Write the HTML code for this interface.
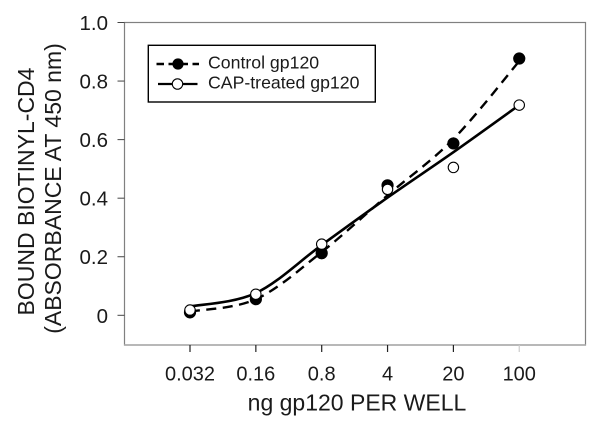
<!DOCTYPE html>
<html>
<head>
<meta charset="utf-8">
<style>
html,body{margin:0;padding:0;background:#fff;}
svg{display:block;}
text{font-family:"Liberation Sans",Arial,sans-serif;fill:#1a1a1a;}
</style>
</head>
<body>
<svg id="chart" width="600" height="428" viewBox="0 0 600 428" xmlns="http://www.w3.org/2000/svg"></svg>
<script>
const categories = ['0.032', '0.16', '0.8', '4', '20', '100'];
const yTickLabels = ['0', '0.2', '0.4', '0.6', '0.8', '1.0'];
const yTickValues = [0, 0.2, 0.4, 0.6, 0.8, 1.0];
const controlPoints = [0.01, 0.055, 0.212, 0.444, 0.587, 0.877];
const capPoints = [0.018, 0.072, 0.243, 0.43, 0.505, 0.718];
const controlFit = [0.013, 0.055, 0.216, 0.41, 0.602, 0.868];
const capFit = [0.03, 0.076, 0.24, 0.402, 0.557, 0.718];

const svg = document.getElementById('chart');
const NS = 'http://www.w3.org/2000/svg';
function make(tag, attrs, text) {
  const el = document.createElementNS(NS, tag);
  for (const k in attrs) el.setAttribute(k, attrs[k]);
  if (text !== undefined) el.textContent = text;
  svg.appendChild(el);
  return el;
}
function xAxis(i) { return 190 + i * 65.85; }
function yAxis(v) { return 315.3 - v * 292.8; }
function curvePath(values) {
  const p = values.map((v, i) => [xAxis(i), yAxis(v)]);
  let d = 'M' + p[0][0] + ' ' + p[0][1];
  for (let i = 0; i < p.length - 1; i++) {
    const a = p[Math.max(i - 1, 0)], b = p[i], c = p[i + 1], e = p[Math.min(i + 2, p.length - 1)];
    const c1x = b[0] + (c[0] - a[0]) / 6, c1y = b[1] + (c[1] - a[1]) / 6;
    const c2x = c[0] - (e[0] - b[0]) / 6, c2y = c[1] - (e[1] - b[1]) / 6;
    d += ' C' + c1x + ' ' + c1y + ' ' + c2x + ' ' + c2y + ' ' + c[0] + ' ' + c[1];
  }
  return d;
}

const frame = make('rect', {x: 124.5, y: 22.5, width: 461, height: 322.5, fill: 'none', stroke: '#808080', 'stroke-width': 1.2});


const floor = make('line', {x1: 124, x2: 586, y1: 345, y2: 345, stroke: '#a8a8a8', 'stroke-width': 1.6});



yTickValues.forEach((v, i) => {
  const tick = make('line', {x1: 117.5, x2: 124.5, y1: yAxis(v), y2: yAxis(v), stroke: '#444', 'stroke-width': 1});
  
  
  const label = make('text', {x: 108, y: yAxis(v) + 7.5, 'text-anchor': 'end', 'font-size': 20.5}, yTickLabels[i]);
  
  
});

categories.forEach((c, i) => {
  const tick = make('line', {x1: xAxis(i), x2: xAxis(i), y1: 345, y2: 352, stroke: i === 5 ? '#ccc' : '#222', 'stroke-width': 1.2});
  
  
  const label = make('text', {x: xAxis(i), y: 380.5, 'text-anchor': 'middle', 'font-size': 20}, c);
  
  
});

const xTitle = make('text', {x: 357, y: 410.5, 'text-anchor': 'middle', 'font-size': 23}, 'ng gp120 PER WELL');


const yTitle1 = make('text', {transform: 'translate(34 191.5) rotate(-90)', 'text-anchor': 'middle', 'font-size': 23}, 'BOUND BIOTINYL-CD4');


const yTitle2 = make('text', {transform: 'translate(61 188.5) rotate(-90)', 'text-anchor': 'middle', 'font-size': 23}, '(ABSORBANCE AT 450 nm)');



const controlLine = make('path', {d: curvePath(controlFit), fill: 'none', stroke: '#000', 'stroke-width': 2.4, 'stroke-dasharray': '10 6.5'});


const capLine = make('path', {d: curvePath(capFit), fill: 'none', stroke: '#000', 'stroke-width': 2.6});



controlPoints.forEach((v, i) => {
  const dot = make('circle', {cx: xAxis(i), cy: yAxis(v), r: 5.8, fill: '#000', stroke: '#000', 'stroke-width': 0.6});
  
  
});
capPoints.forEach((v, i) => {
  const dot = make('circle', {cx: xAxis(i), cy: yAxis(v), r: 5.2, fill: '#fff', stroke: '#000', 'stroke-width': 1.1});
  
  
});

const legendBox = make('rect', {x: 148.3, y: 45.3, width: 227, height: 56.7, fill: '#fff', stroke: '#000', 'stroke-width': 1.4});


const legendDash = make('line', {x1: 156.5, x2: 199, y1: 64, y2: 64, stroke: '#000', 'stroke-width': 2.6, 'stroke-dasharray': '7.5 4.5'});


const legendDot = make('circle', {cx: 178, cy: 64, r: 5.6, fill: '#000'});


const legendControl = make('text', {x: 208, y: 68.5, 'font-size': 17.7}, 'Control gp120');


const legendSolid = make('line', {x1: 158, x2: 197.5, y1: 84, y2: 84, stroke: '#000', 'stroke-width': 2.2});


const legendOpen = make('circle', {cx: 177.5, cy: 84, r: 5.2, fill: '#fff', stroke: '#000', 'stroke-width': 1.1});


const legendCap = make('text', {x: 208, y: 88.5, 'font-size': 17.7}, 'CAP-treated gp120');


</script>
</body>
</html>
